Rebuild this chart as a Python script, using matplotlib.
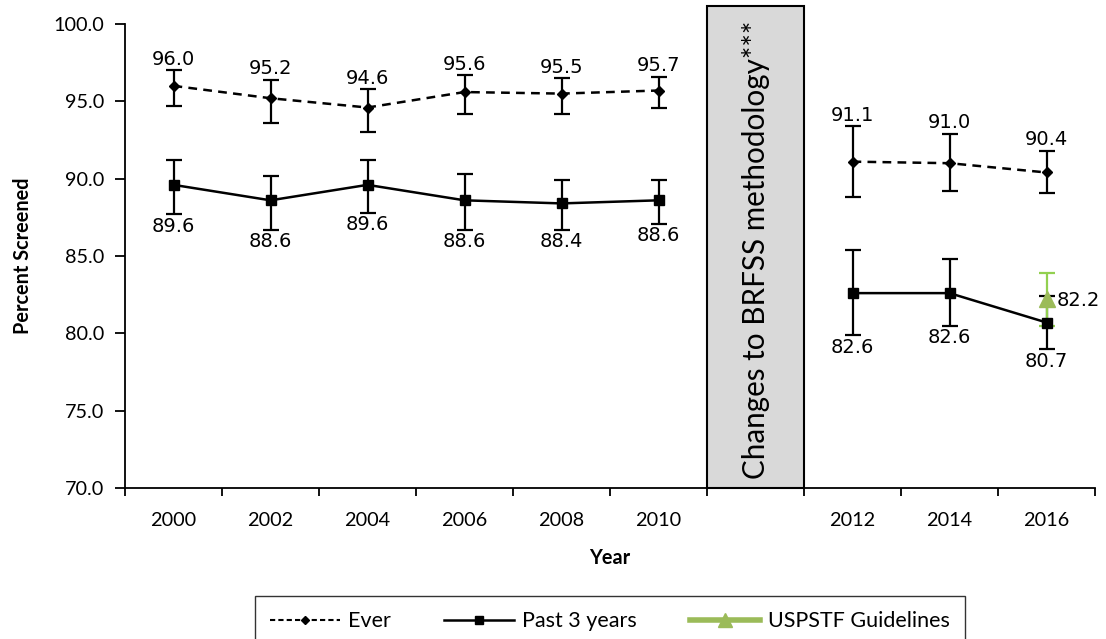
import matplotlib
matplotlib.use("Agg")
import matplotlib.pyplot as plt
import numpy as np
from matplotlib.patches import Rectangle
from matplotlib.lines import Line2D

categories = ["2000", "2002", "2004", "2006", "2008", "2010", "", "2012", "2014", "2016"]
ever = [96.0, 95.2, 94.6, 95.6, 95.5, 95.7, np.nan, 91.1, 91.0, 90.4]
ever_hi = [97.0, 96.4, 95.8, 96.7, 96.5, 96.6, np.nan, 93.4, 92.9, 91.8]
ever_lo = [94.7, 93.6, 93.0, 94.2, 94.2, 94.6, np.nan, 88.8, 89.2, 89.1]
past3 = [89.6, 88.6, 89.6, 88.6, 88.4, 88.6, np.nan, 82.6, 82.6, 80.7]
past3_hi = [91.2, 90.2, 91.2, 90.3, 89.9, 89.9, np.nan, 85.4, 84.8, 82.4]
past3_lo = [87.7, 86.7, 87.8, 86.7, 86.7, 87.1, np.nan, 79.9, 80.5, 79.0]
usp_idx = 9
usp = 82.2
usp_hi = 83.9
usp_lo = 80.5
box_text = "Changes to BRFSS methodology***"

plt.rcParams['font.family'] = ['Lato', 'DejaVu Sans']

fig = plt.figure(figsize=(11.06, 6.39), dpi=100)
ax = fig.add_axes([125/1106, 1-488/639, (1095-125)/1106, (488-24)/639])

x = np.arange(len(categories))
ever_a = np.array(ever); past_a = np.array(past3)
ever_err = [ever_a - np.array(ever_lo), np.array(ever_hi) - ever_a]
past_err = [past_a - np.array(past3_lo), np.array(past3_hi) - past_a]

ax.errorbar(x, ever_a, yerr=ever_err, fmt='none', ecolor='black', elinewidth=1.6, capsize=6, capthick=1.6, zorder=3)
ax.plot(x, ever_a, linestyle=(0, (3.5, 2.5)), color='black', lw=1.8, marker='D', markersize=5, zorder=4)
ax.errorbar(x, past_a, yerr=past_err, fmt='none', ecolor='black', elinewidth=1.6, capsize=6, capthick=1.6, zorder=3)
ax.plot(x, past_a, linestyle='-', color='black', lw=1.8, marker='s', markersize=7, zorder=7)
ax.errorbar([usp_idx], [usp], yerr=[[usp - usp_lo], [usp_hi - usp]], fmt='none', ecolor='#92d050', elinewidth=1.6, capsize=6, capthick=1.6, zorder=5)
ax.plot([usp_idx], [usp], marker='^', color='#9bbb59', markersize=12, linestyle='none', zorder=6)

lab_fs = 14
for i in range(len(categories)):
    if not np.isnan(ever_a[i]):
        ax.annotate(f"{ever_a[i]:.1f}", (x[i], ever_hi[i]), xytext=(0, 1), textcoords='offset points',
                    ha='center', va='bottom', fontsize=lab_fs, family='DejaVu Sans')
    if not np.isnan(past_a[i]):
        ax.annotate(f"{past_a[i]:.1f}", (x[i], past3_lo[i]), xytext=(0, -2), textcoords='offset points',
                    ha='center', va='top', fontsize=lab_fs, family='DejaVu Sans')
ax.annotate(f"{usp:.1f}", (x[usp_idx], usp), xytext=(7, -1), textcoords='offset points',
            ha='left', va='center', fontsize=lab_fs, family='DejaVu Sans')

# methodology box
rect = Rectangle((5.5, 70), 1.0, 31.16, facecolor='#d9d9d9', edgecolor='black', lw=1.5, clip_on=False, zorder=2)
ax.add_patch(rect)
ax.text(6.0, 70 + 31.16/2 - 0.2, box_text, rotation=90, ha='center', va='center', fontsize=21.3, zorder=3)

ax.set_xlim(-0.5, 9.5)
ax.set_ylim(70, 100)
ax.set_yticks(np.arange(70, 100.1, 5))
ax.set_yticklabels([f"{v:.1f}" for v in np.arange(70, 100.1, 5)], fontsize=14.3)
ax.set_xticks(x)
ax.set_xticklabels(categories, fontsize=14.3)
ax.set_xticks(np.arange(-0.5, 9.6, 1), minor=True)
ax.tick_params(axis='x', which='major', length=0, pad=17)
ax.tick_params(axis='x', which='minor', length=6, width=1.3, direction='out')
ax.tick_params(axis='y', length=7, width=1.3, direction='out', pad=8)
for s in ['top', 'right']:
    ax.spines[s].set_visible(False)
for s in ['left', 'bottom']:
    ax.spines[s].set_linewidth(1.3)

ax.set_ylabel("Percent Screened", fontsize=14.3, fontweight='bold', labelpad=15)
ax.set_xlabel("Year", fontsize=14.3, fontweight='bold', labelpad=14)

handles = [
    Line2D([], [], color='black', linestyle=(0, (2.5, 1.5)), lw=1.5, marker='D', markersize=4),
    Line2D([], [], color='black', linestyle='-', lw=1.8, marker='s', markersize=6),
    Line2D([], [], color='#9bbb59', linestyle='-', lw=4, marker='^', markersize=10),
]
ax_cx = (125 + 1095) / 2 / 1106
leg = fig.legend(handles, ["Ever", "Past 3 years", "USPSTF Guidelines"], loc='upper center',
                 bbox_to_anchor=(ax_cx, 1-596/639), ncol=3, fontsize=15.5, frameon=True,
                 fancybox=False, edgecolor='black', handlelength=3.25, columnspacing=2.5,
                 borderpad=0.7, handletextpad=0.35, borderaxespad=0)
leg.get_frame().set_linewidth(1.0)

fig.savefig("out.png", dpi=100)
